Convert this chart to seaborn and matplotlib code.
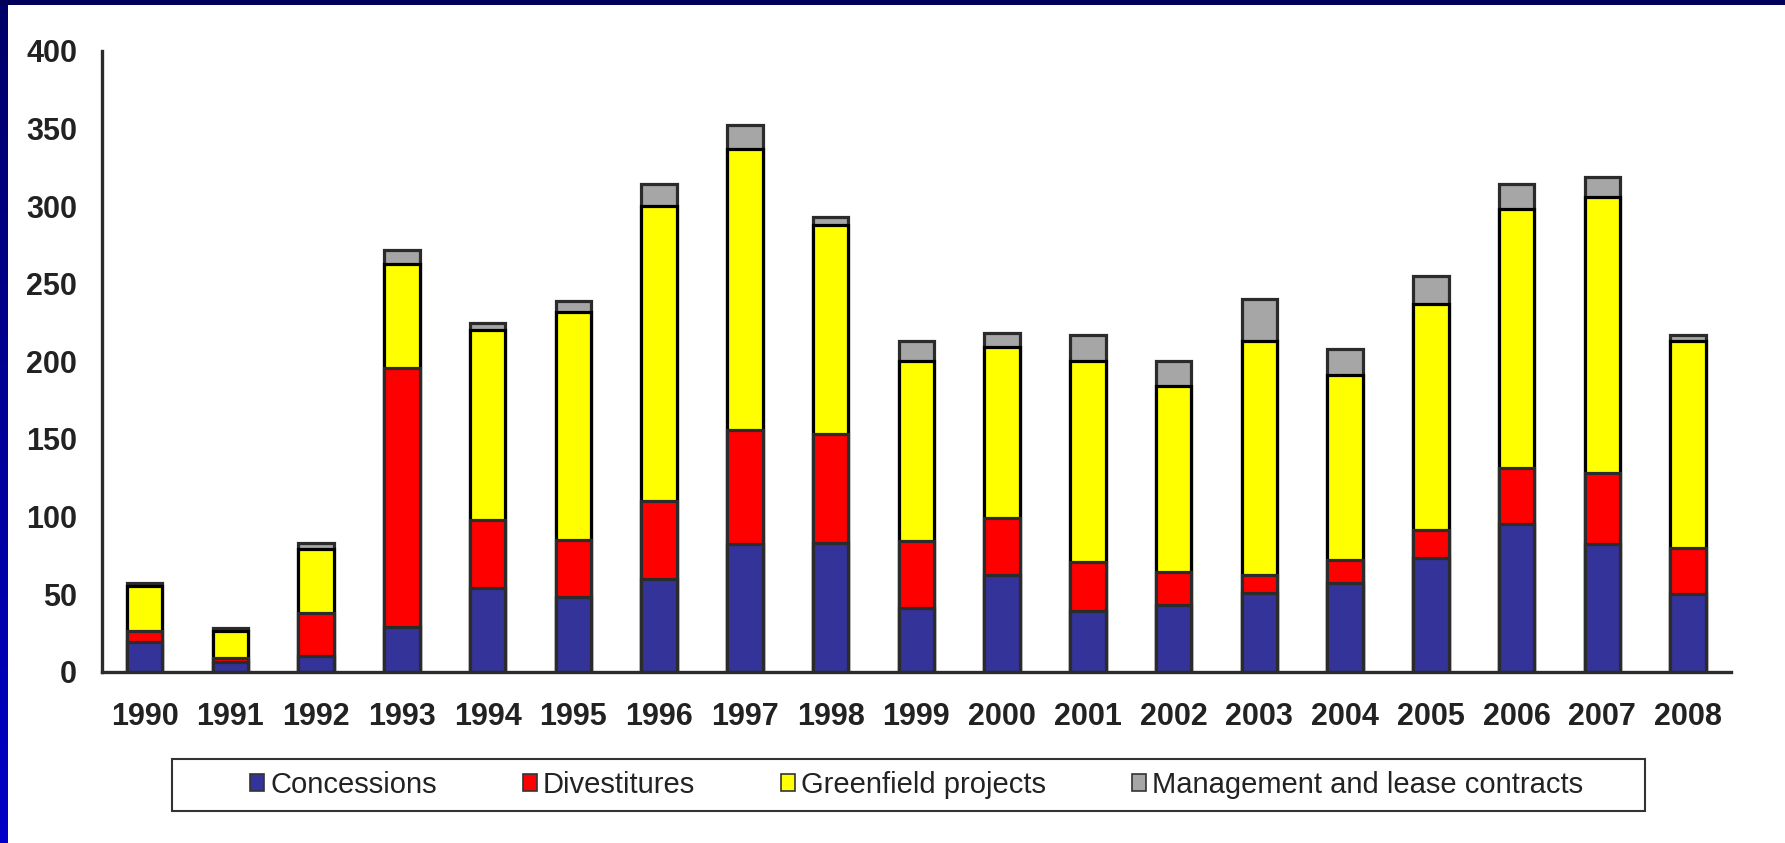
import matplotlib
matplotlib.use("Agg")
import matplotlib.pyplot as plt
import seaborn as sns
import numpy as np
import pandas as pd
from matplotlib.patches import Rectangle, Patch

# Number of infrastructure projects by type, 1990-2008

years = [str(y) for y in range(1990, 2009)]
concessions = [19, 6, 10, 29, 54, 48, 60, 82, 83, 41, 62, 39, 43, 51, 57, 73, 95, 82, 50]
divestitures = [7, 3, 28, 167, 44, 37, 50, 74, 70, 43, 37, 32, 21, 11, 15, 18, 36, 46, 30]
greenfield = [29, 17, 41, 67, 122, 147, 190, 181, 135, 116, 110, 129, 120, 151, 119, 146, 167, 178, 133]
management = [2, 2, 4, 9, 5, 7, 14, 15, 5, 13, 9, 17, 16, 27, 17, 18, 16, 13, 4]

series_names = ["Concessions", "Divestitures", "Greenfield projects", "Management and lease contracts"]
colors = ["#333399", "#ff0000", "#ffff00", "#a6a6a6"]
edges = ["#2b2b2b", "#2b2b2b", "#000000", "#2b2b2b"]

df = pd.DataFrame({"year": years,
                   "Concessions": concessions,
                   "Divestitures": divestitures,
                   "Greenfield projects": greenfield,
                   "Management and lease contracts": management})
cum = df[series_names].cumsum(axis=1)

sns.set_style("white")
plt.rcParams["font.family"] = ["Liberation Sans", "DejaVu Sans"]

W, H = 1785, 843
fig = plt.figure(figsize=(W / 100, H / 100), dpi=100)
fig.patch.set_facecolor("white")
ax = fig.add_axes([101.8 / W, 1 - 671.7 / H, (1731 - 101.8) / W, (671.7 - 51) / H])

# stacked bars: draw totals first, then cover with lower cumulative layers
for name, col, ec in reversed(list(zip(series_names, colors, edges))):
    sns.barplot(x=df["year"], y=cum[name], color=col, edgecolor=ec,
                linewidth=2.3, width=0.415, saturation=1, ax=ax)

ax.set_ylim(0, 400)
ax.set_xlim(-0.5, 18.5)
ax.set_yticks(range(0, 401, 50))
ax.set_xlabel("")
ax.set_ylabel("")
for s in ["top", "right"]:
    ax.spines[s].set_visible(False)
for s in ["left", "bottom"]:
    ax.spines[s].set_color("#2b2b2b")
    ax.spines[s].set_linewidth(2.4)
ax.tick_params(axis="y", length=5.8, width=2.2, color="#2b2b2b", pad=12,
               labelsize=22, labelcolor="#222222")
ax.tick_params(axis="x", length=0, pad=22, labelsize=22, labelcolor="#222222")
for lab in ax.get_xticklabels() + ax.get_yticklabels():
    lab.set_fontweight("bold")

# legend with its own box
fig.patches.append(Rectangle((171.7 / W, 1 - 811 / H), (1645 - 171.7) / W,
                             (811 - 758.7) / H, transform=fig.transFigure,
                             facecolor="white", edgecolor="#333333", linewidth=1.5))
handles = [Patch(facecolor=c, edgecolor="#333333", linewidth=1.2) for c in colors]
fig.legend(handles, series_names, loc="center left", ncol=4, frameon=False,
           bbox_to_anchor=(224 / W, 1 - 785 / H), fontsize=21,
           handlelength=0.48, handleheight=0.55, handletextpad=0.2,
           columnspacing=2.95, labelcolor="#222222")

# slide frame: navy top band and blue gradient on the left
fig.patches.append(Rectangle((0, 1 - 5 / H), 1, 5 / H, transform=fig.transFigure,
                             facecolor="#000058", edgecolor="none"))
bar_ax = fig.add_axes([0, 0, 8 / W, 1 - 5 / H])
grad = np.linspace(0, 1, 256).reshape(-1, 1)
cmap = matplotlib.colors.LinearSegmentedColormap.from_list("frame", ["#000068", "#0000c8"])
bar_ax.imshow(grad, aspect="auto", cmap=cmap, origin="upper")
bar_ax.axis("off")

fig.savefig("out.png", dpi=100, facecolor="white")
